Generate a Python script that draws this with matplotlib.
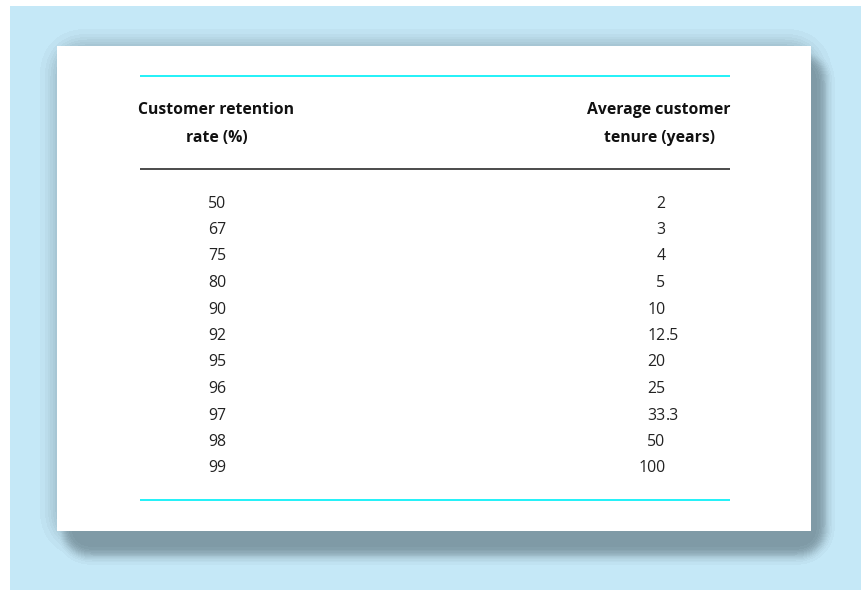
import numpy as np
import matplotlib
matplotlib.use("Agg")
import matplotlib.pyplot as plt
from matplotlib.patches import Rectangle

# ---- data ----
header_left = ["Customer retention", "rate (%)"]
header_right = ["Average customer", "tenure (years)"]
retention_rate = [50, 67, 75, 80, 90, 92, 95, 96, 97, 98, 99]
avg_tenure = [2, 3, 4, 5, 10, 12.5, 20, 25, 33.3, 50, 100]

W, H = 861, 590
fig = plt.figure(figsize=(W / 100, H / 100), dpi=100)
ax = fig.add_axes([0, 0, 1, 1])
ax.set_xlim(0, W)
ax.set_ylim(H, 0)
ax.axis("off")

# ---- background with soft shadow ----
light = np.array([197, 232, 247]) / 255
dark = np.array([127, 154, 166]) / 255

yy, xx = np.mgrid[0:H, 0:W] + 0.5


def rrect(x0, y0, x1, y1, r):
    dx = np.maximum(np.maximum(x0 + r - xx, xx - (x1 - r)), 0)
    dy = np.maximum(np.maximum(y0 + r - yy, yy - (y1 - r)), 0)
    return ((dx ** 2 + dy ** 2) <= r ** 2).astype(float)


def blur(a, s):
    r = int(3 * s)
    k = np.exp(-np.arange(-r, r + 1) ** 2 / (2 * s * s))
    k /= k.sum()
    a = np.apply_along_axis(lambda m: np.convolve(m, k, mode="same"), 0, a)
    a = np.apply_along_axis(lambda m: np.convolve(m, k, mode="same"), 1, a)
    return a


glow = 0.6 * blur(rrect(52, 41, 820, 545, 30), 8)
drop = blur(rrect(62, 52, 826, 556, 28), 5)
inten = np.clip(np.maximum(glow, drop), 0, 1)
inten = np.round(inten * 14) / 14
img = light[None, None, :] + (dark - light)[None, None, :] * inten[..., None]
img[:6, :, :] = 1.0
img[:, :10, :] = 1.0
ax.imshow(img, extent=(0, W, H, 0), interpolation="nearest", zorder=0)

ax.add_patch(Rectangle((57, 46), 754, 485, facecolor="white", edgecolor="none", zorder=1))

# ---- rules ----
ax.plot([140, 730], [75.5, 75.5], color="#10f0f8", lw=1.3, zorder=2, solid_capstyle="butt")
ax.plot([140, 730], [168.5, 168.5], color="#1a1a1a", lw=1.1, zorder=2, solid_capstyle="butt")
ax.plot([140, 730], [500, 500], color="#10f0f8", lw=1.3, zorder=2, solid_capstyle="butt")

# ---- headers ----
hfont = dict(family="Open Sans", weight="bold", fontsize=11.3, color="#111111", zorder=3)
for i, (l, r) in enumerate(zip(header_left, header_right)):
    yb = 114.5 + i * 27.5
    ax.text(216.5, yb, l, ha="center", va="baseline", **hfont)
    ax.text(659, yb, r, ha="center", va="baseline", **hfont)

# ---- body ----
bfont = dict(family="Open Sans", fontsize=11.4, color="#222222", zorder=3)
for i, (a, b) in enumerate(zip(retention_rate, avg_tenure)):
    yb = 207.5 + i * 26.5
    ax.text(226.5, yb, f"{a}", ha="right", va="baseline", **bfont)
    s = f"{b:g}"
    if "." in s:
        ip, fp = s.split(".")
        ax.text(665.5, yb, ip, ha="right", va="baseline", **bfont)
        ax.text(665.5, yb, "." + fp, ha="left", va="baseline", **bfont)
    else:
        ax.text(665.5, yb, s, ha="right", va="baseline", **bfont)

fig.savefig("out.png", dpi=100)
